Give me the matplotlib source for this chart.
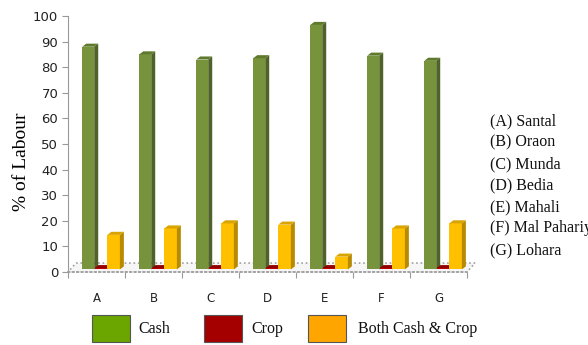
import matplotlib
matplotlib.use('Agg')
import matplotlib.pyplot as plt
from matplotlib.patches import Rectangle, Polygon

# data
categories = ['A', 'B', 'C', 'D', 'E', 'F', 'G']
cash = [87, 84, 82, 82.5, 95.5, 83.5, 81.5]
crop = [0.5, 0.5, 0.5, 0.5, 0.5, 0.5, 0.5]
both = [13.5, 16, 18, 17.5, 5, 16, 18]
tribes = ['(A) Santal', '(B) Oraon', '(C) Munda', '(D) Bedia',
          '(E) Mahali', '(F) Mal Pahariya', '(G) Lohara']
series_names = ['Cash', 'Crop', 'Both Cash & Crop']

W, H = 588, 345
fig = plt.figure(figsize=(W / 100, H / 100), dpi=100)

def fx(px):
    return px / W

def fy(py):
    return 1 - py / H

ax = fig.add_axes([fx(68), fy(272), fx(467) - fx(68), fy(16) - fy(272)])
ax.set_xlim(-0.5, 6.5)
ax.set_ylim(0, 100)

# 3d look
dx = 0.07
dy = 1.2
base = 1.0
floor_dx = 0.14
floor_dy = 3.5

# floor
floor = Polygon([(-0.5, 0), (6.5, 0), (6.5 + floor_dx, floor_dy), (-0.5 + floor_dx, floor_dy)],
                closed=True, facecolor='#f6f6f6', edgecolor='#a0a0a0', lw=1.2, ls=':',
                clip_on=False, zorder=1)
ax.add_patch(floor)

def bar3d(x, w, h, front, side, top):
    ax.add_patch(Rectangle((x, base), w, h, facecolor=front, edgecolor='none', zorder=3))
    ax.add_patch(Polygon([(x + w, base), (x + w + dx, base + dy), (x + w + dx, base + h + dy), (x + w, base + h)],
                         closed=True, facecolor=side, edgecolor='none', zorder=3, clip_on=False))
    ax.add_patch(Polygon([(x, base + h), (x + dx, base + h + dy), (x + w + dx, base + h + dy), (x + w, base + h)],
                         closed=True, facecolor=top, edgecolor='none', zorder=3, clip_on=False))

offsets = [-0.25, -0.035, 0.19]
widths = [0.21, 0.23, 0.22]
styles = [('#77933c', '#4f6228', '#5f7a2c'),
          ('#c00000', '#800000', '#900000'),
          ('#ffc000', '#b88a00', '#d9a300')]
for s, vals in enumerate([cash, crop, both]):
    for i, v in enumerate(vals):
        bar3d(i + offsets[s], widths[s], v, *styles[s])

# axes styling
for sp in ['top', 'right']:
    ax.spines[sp].set_visible(False)
ax.spines['left'].set_color('#999999')
ax.spines['bottom'].set_color('#a0a0a0')
ax.spines['bottom'].set_linestyle(':')
ax.spines['bottom'].set_linewidth(1.2)
ax.set_yticks(range(0, 101, 10))
ax.tick_params(axis='y', length=4, color='#999999', labelsize=9.5, labelcolor='#222222', pad=3)
ax.set_xticks([k - 0.5 for k in range(8)])
ax.set_xticklabels([])
ax.tick_params(axis='x', length=4, color='#999999')
for i, c in enumerate(categories):
    ax.text(i, -10.5, c, ha='center', va='center', fontsize=8.5, color='#222222')

ax.set_ylabel('% of Labour', family='Liberation Serif', fontsize=14)
ax.yaxis.set_label_coords(-0.095, 0.43)

# tribe list on the right
for k, t in enumerate(tribes):
    fig.text(fx(490), fy(121 + k * 21.5), t, family='Liberation Serif', fontsize=11.5,
             va='center', ha='left', color='#111111')

# legend at the bottom
leg_colors = ['#6aa500', '#a50000', '#ffa500']
box_x = [92, 204, 308]
text_x = [138, 251, 358]
for c, bx, tx, name in zip(leg_colors, box_x, text_x, series_names):
    fig.patches.append(Rectangle((fx(bx), fy(342)), fx(38), fy(315) - fy(342), transform=fig.transFigure,
                                 facecolor=c, edgecolor='#555555', lw=0.8))
    fig.text(fx(tx), fy(329), name, family='Liberation Serif', fontsize=11.5, va='center', ha='left',
             color='#111111')

fig.savefig('out.png', dpi=100)
